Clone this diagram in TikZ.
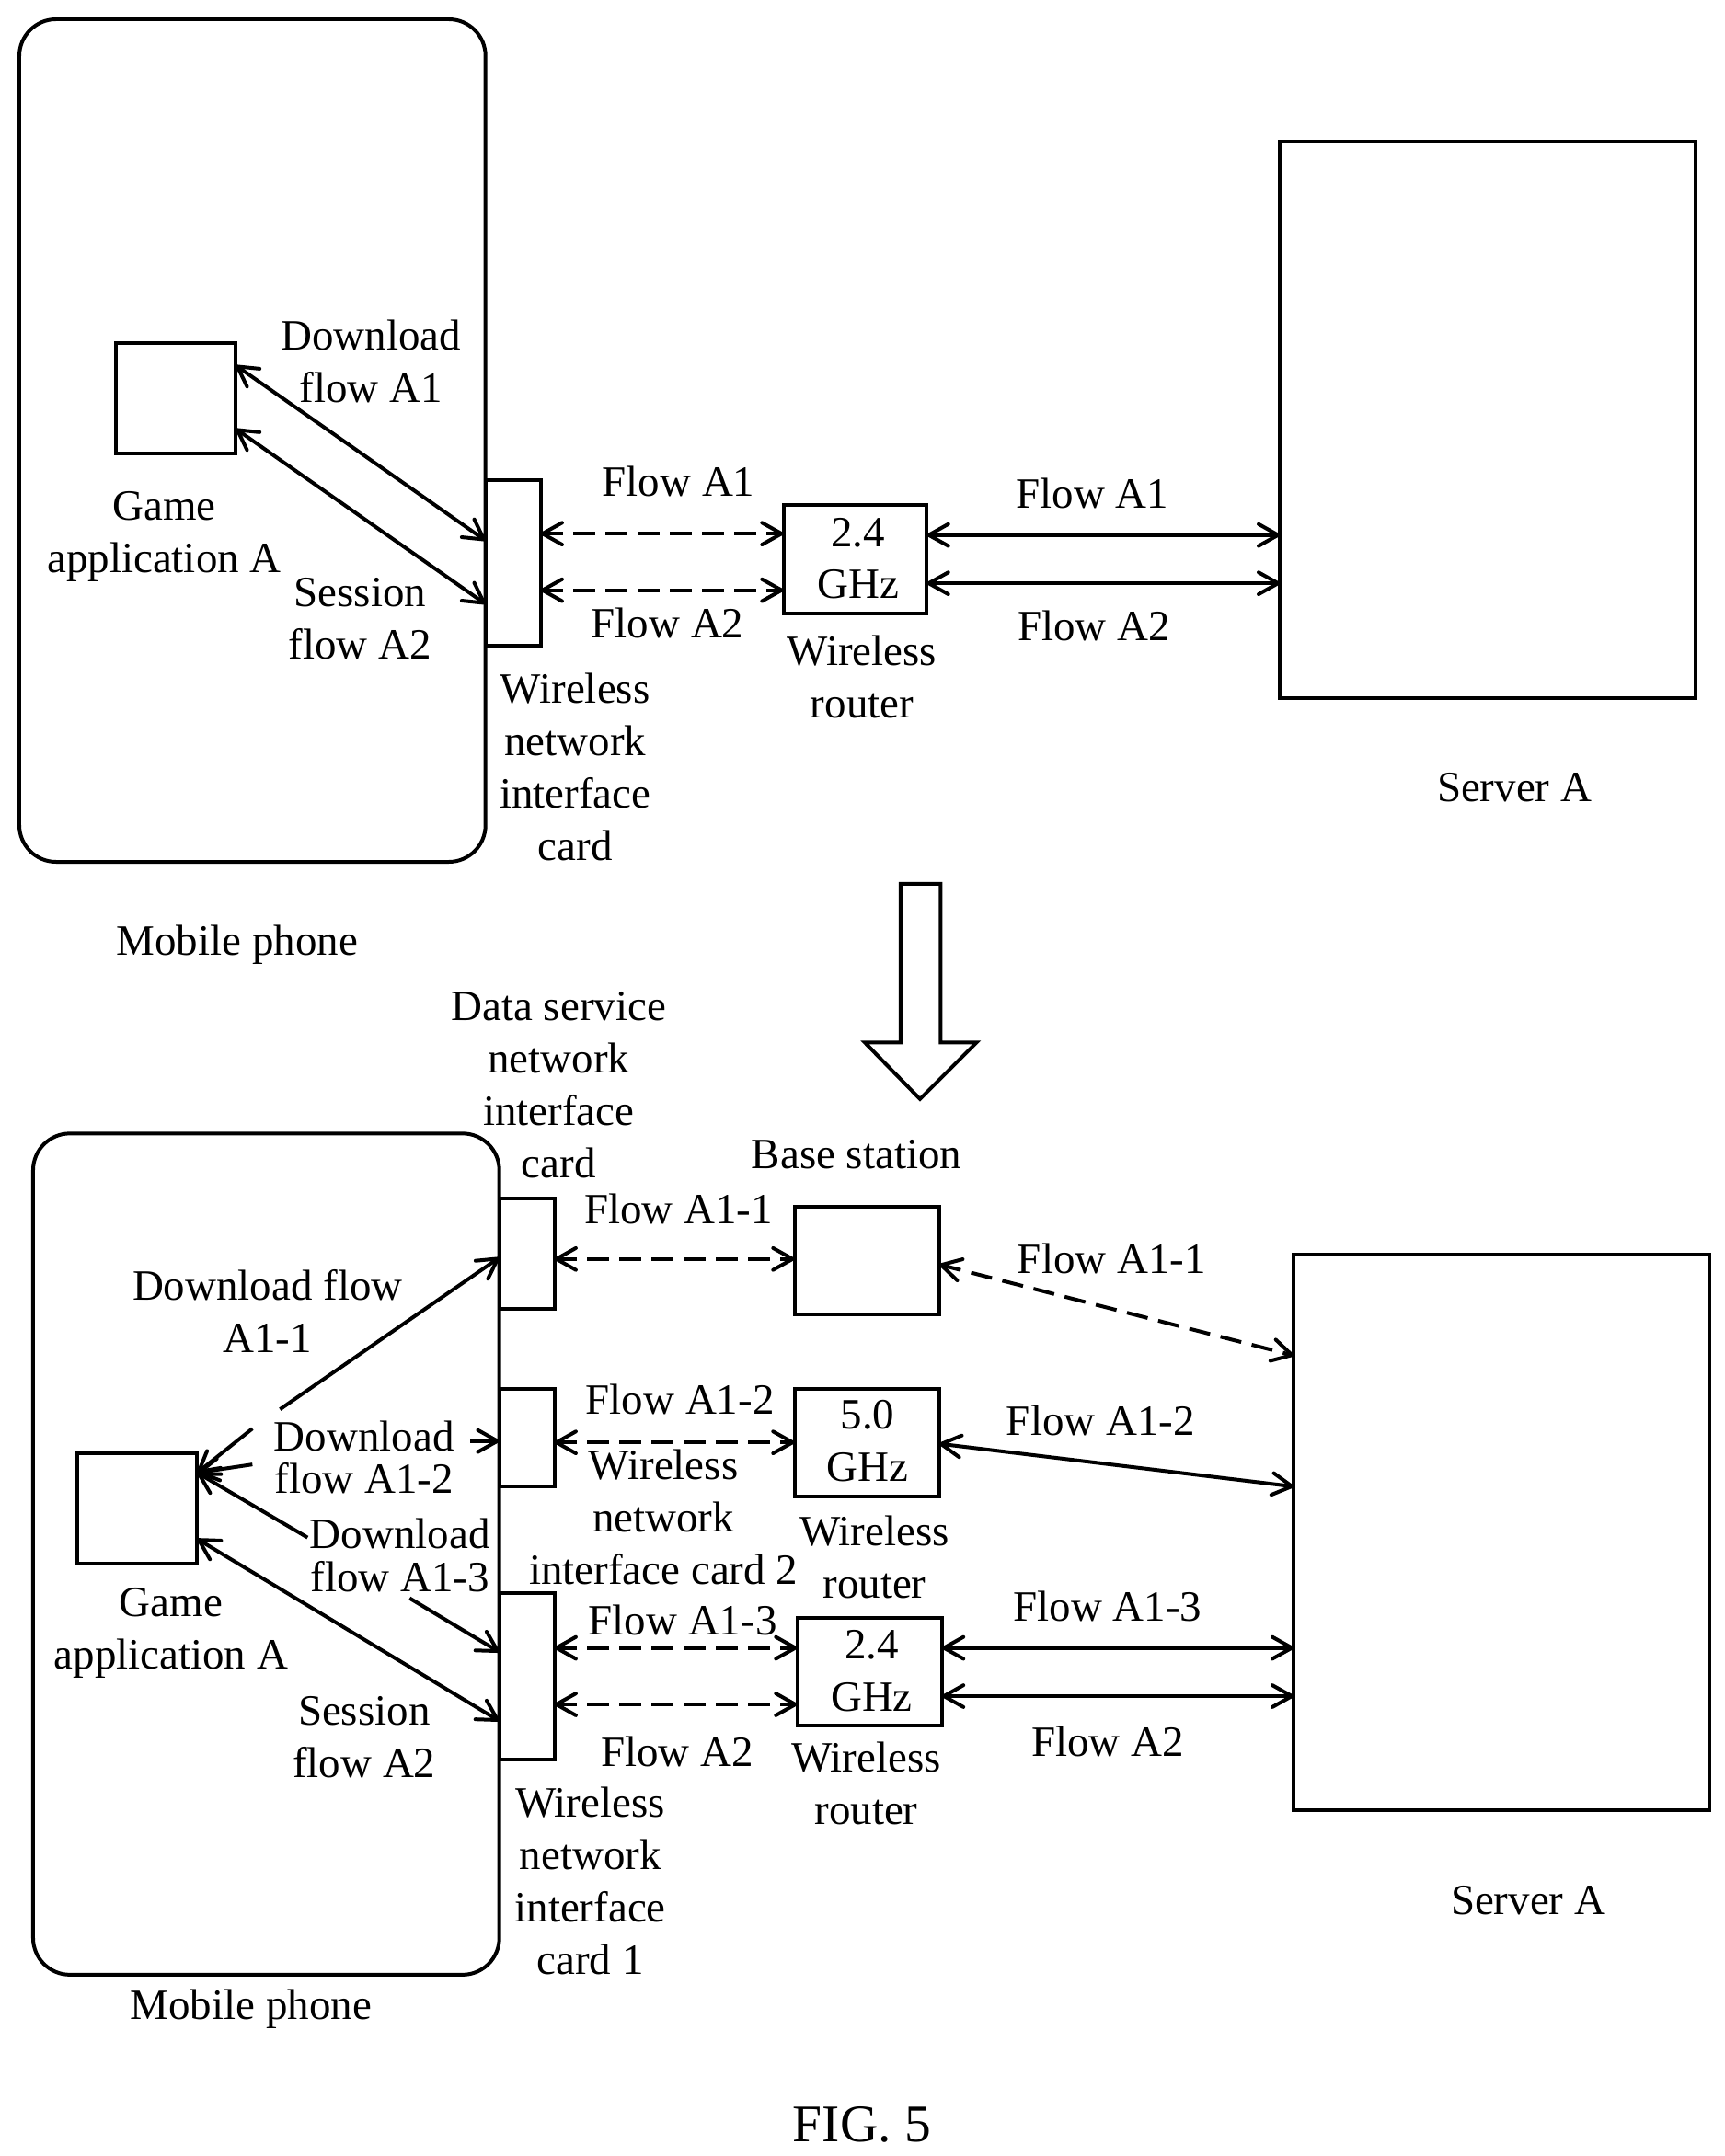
\documentclass[tikz,border=0pt]{standalone}
\usepackage{fontspec}
\setmainfont{Liberation Serif}
\usetikzlibrary{arrows.meta}
\tikzset{
  x=0.6pt,y=-0.6pt,
  line/.style={line width=1.6pt},
  shapebox/.style={draw,line width=1.6pt,inner sep=0pt,outer sep=0pt,rectangle},
  phonebox/.style={shapebox,rounded corners=16pt},
  lab/.style={align=center,inner sep=0pt,font=\fontsize{18.8}{22.8}\selectfont},
  tightlab/.style={align=center,inner sep=0pt,font=\fontsize{18.8}{18.6}\selectfont},
  flow/.style={line,{Straight Barb[length=8.5pt,width=9.5pt,round]}-{Straight Barb[length=8.5pt,width=9.5pt,round]}},
  flowd/.style={flow,dash pattern=on 9.3pt off 4.7pt,dash phase=1.3pt},
  ahead/.style={line,-{Straight Barb[length=8.5pt,width=9.5pt,round]}},
}
\newcommand\rectnode[6][shapebox]{%
  \node[#1,minimum width={(#5-#3)*0.6pt},minimum height={(#6-#4)*0.6pt}] (#2) at ({(#3+#5)/2},{(#4+#6)/2}) {};}
\begin{document}
\begin{tikzpicture}
\useasboundingbox (0,0) rectangle (1250,1563.5);
% upper part
\rectnode[phonebox]{phoneA}{14}{14}{352}{625}
\rectnode{appA}{84}{249}{171}{329}
\rectnode{cardA}{352}{348}{392}{468}
\rectnode{routerA}{568}{366}{672}{445}
\rectnode{serverA}{928}{103}{1229}{506}
\draw[flow] (appA.east |- 0,265) -- (cardA.west |- 0,392);
\draw[flow] (appA.east |- 0,311) -- (cardA.west |- 0,438);
\draw[flowd] (cardA.east |- 0,387) -- (routerA.west |- 0,387);
\draw[flowd] (cardA.east |- 0,428) -- (routerA.west |- 0,428);
\draw[flow] (routerA.east |- 0,388) -- (serverA.west |- 0,388);
\draw[flow] (routerA.east |- 0,423) -- (serverA.west |- 0,423);
\node[lab] (t1) at (269,262) {Download\\flow A1};
\node[lab] (t2) at (119,389) {Game\\application A};
\node[lab] (t3) at (261,449) {Session\\flow A2};
\node[lab] (t4) at (492,349) {Flow A1};
\node[lab] (t5) at (484,452) {Flow A2};
\node[lab] (t6) at (622,405) {2.4\\GHz};
\node[lab] (t7) at (625,491) {Wireless\\router};
\node[lab] (t8) at (792,358) {Flow A1};
\node[lab] (t9) at (793,454) {Flow A2};
\node[lab] (t10) at (417,556) {Wireless\\network\\interface\\card};
\node[lab] (t11) at (1098,571) {Server A};
\node[lab] (t12) at (172,685) {Mobile phone};
% transition arrow
\draw[line] (653,641) -- (682,641) -- (682,756) -- (708,756) -- (667,797) -- (627,756) -- (653,756) -- cycle;
% lower part
\rectnode[phonebox]{phoneB}{24}{822}{362}{1432}
\rectnode{appB}{56}{1054}{143}{1134}
\rectnode{cardDS}{362}{869}{402}{949}
\rectnode{cardW}{362}{1007}{402}{1078}
\rectnode{cardV}{362}{1155}{402}{1276}
\rectnode{base}{576}{875}{681}{953}
\rectnode{routerF}{576}{1007}{681}{1085}
\rectnode{routerB}{578}{1173}{683}{1251}
\rectnode{serverB}{938}{910}{1239}{1313}
\draw[ahead] (203,1022) -- (cardDS.west |- 0,912);
\draw[ahead] (183,1036) -- (appB.east |- 0,1068);
\draw[ahead] (183,1062) -- (appB.east |- 0,1068);
\draw[ahead] (341,1045) -- (cardW.west |- 0,1045);
\draw[ahead] (223,1115) -- (appB.east |- 0,1068);
\draw[ahead] (297,1159) -- (cardV.west |- 0,1198);
\draw[flow] (appB.east |- 0,1116) -- (cardV.west |- 0,1248);
\draw[flowd] (cardDS.east |- 0,913) -- (base.west |- 0,913);
\draw[flowd] (cardW.east |- 0,1046) -- (routerF.west |- 0,1046);
\draw[flowd] (cardV.east |- 0,1195) -- (routerB.west |- 0,1195);
\draw[flowd] (cardV.east |- 0,1236) -- (routerB.west |- 0,1236);
\draw[flowd] (base.east |- 0,917) -- (serverB.west |- 0,983);
\draw[flow] (routerF.east |- 0,1047) -- (serverB.west |- 0,1078);
\draw[flow] (routerB.east |- 0,1195) -- (serverB.west |- 0,1195);
\draw[flow] (routerB.east |- 0,1230) -- (serverB.west |- 0,1230);
\node[lab] (b1) at (405,787) {Data service\\network\\interface\\card};
\node[lab] (b2) at (621,837) {Base station};
\node[lab] (b3) at (492,877) {Flow A1-1};
\node[lab] (b4) at (806,913) {Flow A1-1};
\node[lab] (b5) at (194,951) {Download flow\\A1-1};
\node[lab] (b6) at (493,1015) {Flow A1-2};
\node[lab] (b7) at (481,1100) {Wireless\\network\\interface card 2};
\node[lab] (b8) at (629,1045) {5.0\\GHz};
\node[lab] (b9) at (634,1129) {Wireless\\router};
\node[lab] (b10) at (798,1030) {Flow A1-2};
\node[tightlab] (b11) at (264,1057) {Download\\flow A1-2};
\node[tightlab] (b12) at (290,1128) {Download\\flow A1-3};
\node[lab] (b13) at (124,1184) {Game\\application A};
\node[lab] (b14) at (495,1175) {Flow A1-3};
\node[lab] (b15) at (803,1165) {Flow A1-3};
\node[lab] (b16) at (632,1212) {2.4\\GHz};
\node[lab] (b17) at (264,1260) {Session\\flow A2};
\node[lab] (b18) at (491,1270) {Flow A2};
\node[lab] (b19) at (803,1263) {Flow A2};
\node[lab] (b20) at (628,1293) {Wireless\\router};
\node[lab] (b21) at (428,1364) {Wireless\\network\\interface\\card 1};
\node[lab] (b22) at (1108,1378) {Server A};
\node[lab] (b23) at (182,1457) {Mobile phone};
\node[lab,font=\fontsize{23}{27}\selectfont] (fig) at (625,1541) {FIG. 5};
\end{tikzpicture}
\end{document}
